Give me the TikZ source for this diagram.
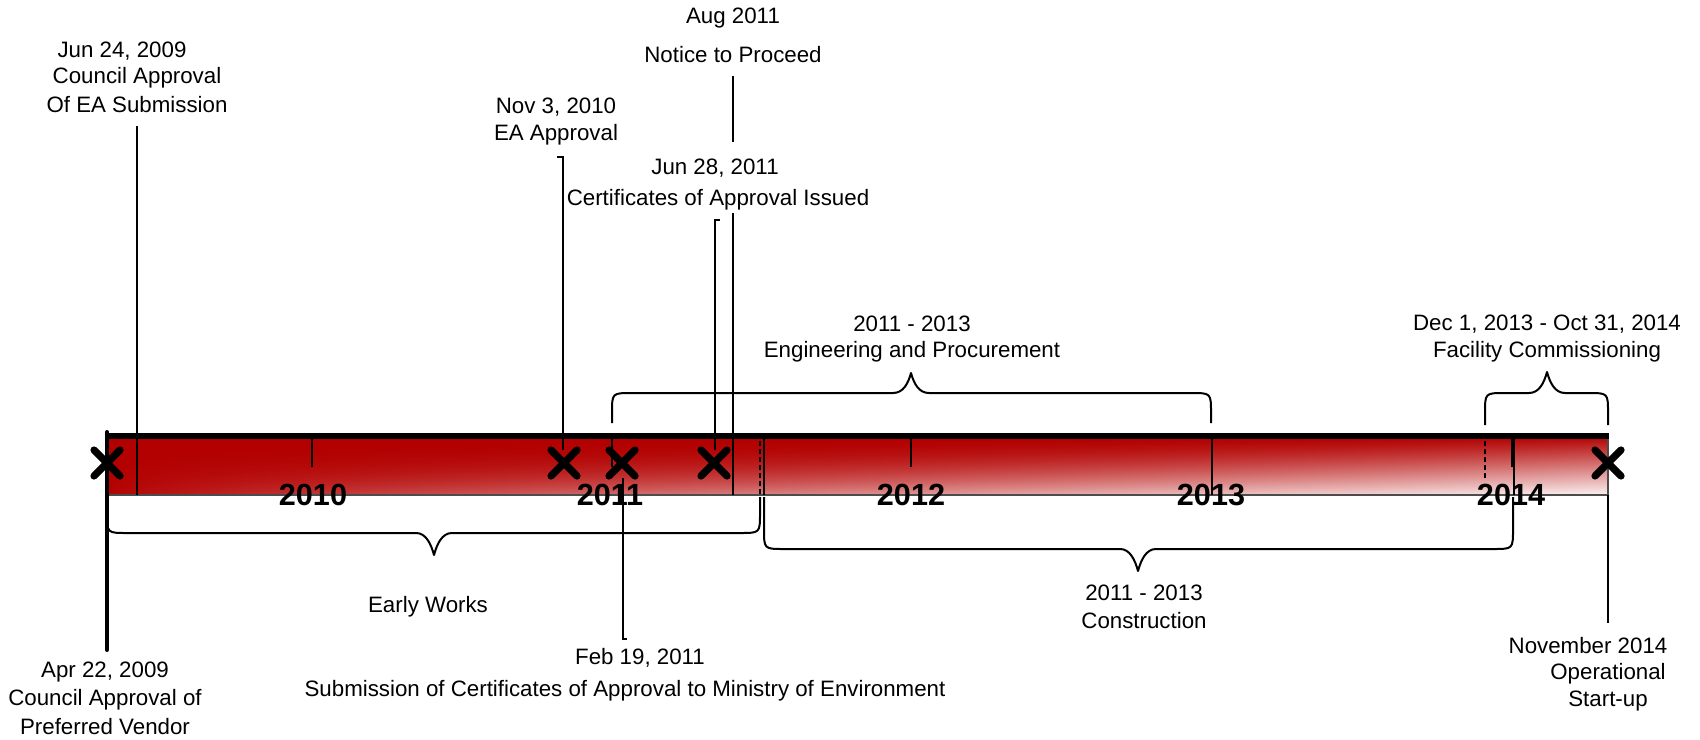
\documentclass[tikz,border=0pt]{standalone}
\usepackage{fontspec}
\setmainfont{Liberation Sans}
\usetikzlibrary{shapes.misc}
\pgfdeclarefunctionalshading{barshade}{\pgfpoint{0bp}{0bp}}{\pgfpoint{100bp}{100bp}}{}{
  25 sub 50 div 1 exch sub
  dup 0 lt {pop 0} if dup 1 gt {pop 1} if
  exch 25 sub 50 div
  dup 0 lt {pop 0} if dup 1 gt {pop 1} if
  dup 1.8 mul 2.8 exch sub
  3 -1 roll
  exch exp
  exch 0.75 exp 0.95 mul
  mul
  dup 0.3 mul 0.7 add
  exch dup
}
\tikzset{
  lbl/.style={inner sep=0pt, font=\fontsize{11.15pt}{13.4pt}\selectfont, text=black},
  yearlbl/.style={inner sep=0pt, font=\fontsize{15.3pt}{18pt}\selectfont\bfseries},
  conn/.style={line width=1pt},
  bracestyle/.style={line width=1pt, line join=round},
  tickline/.style={line width=1pt},
  thinline/.style={line width=0.6pt},
  dashline/.style={line width=0.7pt, dash pattern=on 2.5pt off 1.5pt},
  xmark/.style={cross out, draw, line width=3.6pt, line cap=round, minimum size=13pt, inner sep=0pt, outer sep=0pt},
}
\begin{document}
\begin{tikzpicture}[x=0.5pt, y=-0.5pt]
\useasboundingbox (0,0) rectangle (1700,739);
\fill[white] (0,0) rectangle (1700,739);

% bar
\shade[shading=barshade] (106,436) rectangle (1608,495);
\draw[line width=0.6pt, black!70] (106,436) rectangle (1608,495);
\draw[line width=3pt] (105,436) -- (1609,436);

% ticks and boundary lines inside the bar
\draw[tickline] (312,439) -- (312,467);
\draw[tickline] (612,433) -- (612,467);
\draw[tickline] (911,439) -- (911,467);
\draw[tickline] (1212,433) -- (1212,467);
\draw[thinline] (1212,467) -- (1212,495);
\draw[tickline] (1512,439) -- (1512,467);
\draw[thinline] (1514,439) -- (1514,495);
\draw[dashline] (760,433) -- (760,495);
\draw[thinline] (764,439) -- (764,495);
\draw[dashline] (1485,433) -- (1485,480);

% coordinates of connector ends
\coordinate (jun24a) at (137,126);
\coordinate (jun24b) at (137,495);
\coordinate (apr22a) at (107,432);
\coordinate (apr22b) at (107,650);
\coordinate (nov3h) at (557,157);
\coordinate (nov3a) at (563,157);
\coordinate (nov3b) at (563,450);
\coordinate (jun28h) at (720,220);
\coordinate (jun28a) at (715,220);
\coordinate (jun28b) at (715,450);
\coordinate (aug1a) at (733,76);
\coordinate (aug1b) at (733,142);
\coordinate (aug2a) at (733,213);
\coordinate (aug2b) at (733,495);
\coordinate (feb19a) at (623,478);
\coordinate (feb19b) at (623,639);
\coordinate (feb19h) at (627,639);
\coordinate (nov14a) at (1608,495);
\coordinate (nov14b) at (1608,623);

% connectors
\draw[conn] (jun24a) -- (jun24b);
\draw[line width=2pt, line cap=round] (apr22a) -- (apr22b);
\draw[conn] (nov3h) -- (nov3a) -- (nov3b);
\draw[conn] (jun28h) -- (jun28a) -- (jun28b);
\draw[conn] (aug1a) -- (aug1b);
\draw[conn] (aug2a) -- (aug2b);
\draw[conn] (feb19a) -- (feb19b) -- (feb19h);
\draw[conn] (nov14a) -- (nov14b);

% markers
\node[xmark] (m1) at (107,463) {};
\node[xmark] (m2) at (564,463) {};
\node[xmark] (m3) at (622,463) {};
\node[xmark] (m4) at (714,463) {};
\node[xmark] (m5) at (1608,463) {};

% year labels
\node[yearlbl] (y2010) at (313,495) {2010};
\node[yearlbl] (y2011) at (610,495) {2011};
\node[yearlbl] (y2012) at (911,495) {2012};
\node[yearlbl] (y2013) at (1211,495) {2013};
\node[yearlbl] (y2014) at (1511,495) {2014};

% braces above
\draw[bracestyle] (612,423) -- (612,413) .. controls (612,393) .. (632,393) -- (893,393)
  .. controls (903,393) and (908,384) .. (911,373)
  .. controls (914,384) and (919,393) .. (929,393) -- (1191,393)
  .. controls (1211,393) .. (1211,413) -- (1211,423);
\draw[bracestyle] (1485,425) -- (1485,413) .. controls (1485,393) .. (1505,393) -- (1529,393)
  .. controls (1539,393) and (1544,383) .. (1547,372)
  .. controls (1550,383) and (1555,393) .. (1565,393) -- (1588,393)
  .. controls (1608,393) .. (1608,413) -- (1608,425);
% braces below
\draw[bracestyle] (107,497) -- (107,513) .. controls (107,533) .. (127,533) -- (416,533)
  .. controls (426,533) and (431,544) .. (434,555)
  .. controls (437,544) and (442,533) .. (452,533) -- (740,533)
  .. controls (760,533) .. (760,513) -- (760,497);
\draw[bracestyle] (764,497) -- (764,529) .. controls (764,549) .. (784,549) -- (1120,549)
  .. controls (1130,549) and (1135,560) .. (1138,571)
  .. controls (1141,560) and (1146,549) .. (1156,549) -- (1493,549)
  .. controls (1513,549) .. (1513,529) -- (1513,497);

% texts
\node[lbl] (t1) at (733,18) {Aug 2011};
\node[lbl] (t2) at (733,55) {Notice to Proceed};
\node[lbl] (t3) at (122,51) {Jun 24, 2009};
\node[lbl] (t4) at (137,78) {Council Approval};
\node[lbl] (t5) at (137,105) {Of EA Submission};
\node[lbl] (t6) at (556,107) {Nov 3, 2010};
\node[lbl] (t7) at (556,135) {EA Approval};
\node[lbl] (t8) at (715,168) {Jun 28, 2011};
\node[lbl] (t9) at (718,200) {Certificates of Approval Issued};
\node[lbl] (t10) at (912,324) {2011 - 2013};
\node[lbl] (t11) at (912,352) {Engineering and Procurement};
\node[lbl] (t12) at (1547,324) {Dec 1, 2013 - Oct 31, 2014};
\node[lbl] (t13) at (1547,352) {Facility Commissioning};
\node[lbl] (t14) at (428,607) {Early Works};
\node[lbl] (t15) at (1144,593) {2011 - 2013};
\node[lbl] (t16) at (1144,621) {Construction};
\node[lbl] (t17) at (105,672) {Apr 22, 2009};
\node[lbl] (t18) at (105,700) {Council Approval of};
\node[lbl] (t19) at (105,727) {Preferred Vendor};
\node[lbl] (t20) at (640,658) {Feb 19, 2011};
\node[lbl] (t21) at (625,691) {Submission of Certificates of Approval to Ministry of Environment};
\node[lbl] (t22) at (1588,646) {November 2014};
\node[lbl] (t23) at (1608,674) {Operational};
\node[lbl] (t24) at (1608,701) {Start-up};
\end{tikzpicture}
\end{document}
